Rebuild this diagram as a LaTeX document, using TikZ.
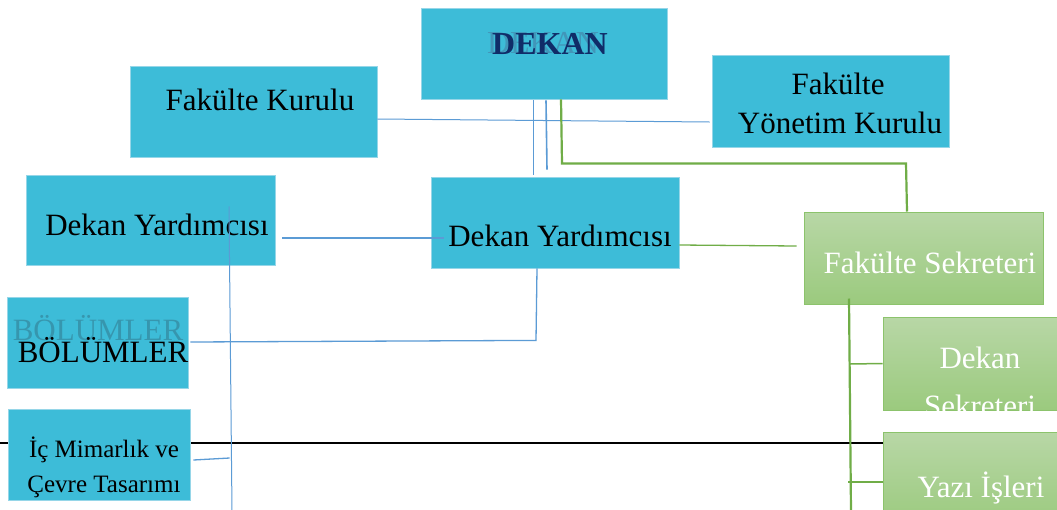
\documentclass[tikz,border=0pt]{standalone}
\usepackage{fontspec}
\setmainfont{Liberation Serif}
\usetikzlibrary{calc}
\definecolor{boxfill}{RGB}{61,188,216}
\definecolor{boxedge}{RGB}{150,214,232}
\definecolor{lineblue}{RGB}{91,155,213}
\definecolor{linegreen}{RGB}{112,173,71}
\definecolor{gtop}{RGB}{184,215,166}
\definecolor{gbot}{RGB}{155,202,126}
\definecolor{gedge}{RGB}{140,195,108}
\definecolor{navy}{RGB}{16,44,104}
\definecolor{ghostblue}{RGB}{70,120,160}
\definecolor{ghostteal}{RGB}{50,120,140}
\begin{document}
\begin{tikzpicture}[x=1pt,y=-1pt,
  tealbox/.style={draw=boxedge, line width=0.8pt, fill=boxfill, inner sep=0pt},
  greenbox/.style={draw=gedge, line width=1pt, top color=gtop, bottom color=gbot, inner sep=0pt},
  lbl/.style={anchor=base, inner sep=0pt, font=\fontsize{31}{36}\selectfont},
  small/.style={lbl, font=\fontsize{25}{30}\selectfont},
  wlbl/.style={lbl, text=white},
  conn/.style={draw=lineblue, line width=1.3pt},
  gconn/.style={draw=linegreen, line width=2.2pt}]
\clip (0,0) rectangle (1057,509);
\fill[white] (0,0) rectangle (1057,509);

% page separator line
\draw[line width=2.5pt] (0,443) -- (883,443);

% boxes
\node[tealbox, minimum width=246, minimum height=91] (dekan)   at (544,53.5)  {};
\node[tealbox, minimum width=247, minimum height=91] (kurulu)  at (253.5,111.5) {};
\node[tealbox, minimum width=237, minimum height=92] (yonetim) at (830.5,101) {};
\node[tealbox, minimum width=249, minimum height=90] (dyL)     at (150.5,220) {};
\node[tealbox, minimum width=248, minimum height=91] (dyC)     at (555,222.5) {};
\node[tealbox, minimum width=181, minimum height=91] (bolum)   at (97.5,342.5) {};
\node[tealbox, minimum width=182, minimum height=91] (icmim)   at (99,454.5) {};
\node[greenbox, minimum width=239, minimum height=92] (sekr)   at (923.5,258) {};
\node[greenbox, minimum width=194, minimum height=93] (dsek)   at (980,363.5) {};
\node[greenbox, minimum width=194, minimum height=93] (yazi)   at (980,478.5) {};

% labels
\node[lbl, font=\fontsize{32}{36}\selectfont, text=ghostblue, opacity=0.55] (dekanG) at (543,53) {DEKAN};
\node[lbl, font=\bfseries\fontsize{32}{36}\selectfont, text=navy] (dekanT) at (550,54) {DEKAN};
\node[lbl] (kurulT) at (260,110) {Fakülte Kurulu};
\node[lbl] (yonT1) at (838,94) {Fakülte};
\node[lbl] (yonT2) at (840,133) {Yönetim Kurulu};
\node[lbl] (dyLT) at (157,235) {Dekan Yardımcısı};
\node[lbl] (dyCT) at (560,246) {Dekan Yardımcısı};
\node[lbl, text=ghostteal, opacity=0.55] (bolumG) at (98,340) {BÖLÜMLER};
\node[lbl] (bolumT) at (103,362) {BÖLÜMLER};
\node[small] (icT1) at (104,457) {İç Mimarlık ve};
\node[small] (icT2) at (104,492) {Çevre Tasarımı};
\node[wlbl] (sekrT) at (930,273) {Fakülte Sekreteri};
\begin{scope}
  \clip (dsek.south west) rectangle (dsek.north east);
  \node[wlbl] (dsekT1) at (980,368) {Dekan};
  \node[wlbl] (dsekT2) at (980,416) {Sekreteri};
\end{scope}
\node[wlbl] (yaziT) at (981,497) {Yazı İşleri};

% trunk ends below the page edge
\coordinate (trunkL) at (232,512);
\coordinate (trunkR) at (851,512);

% connectors
\draw[conn, line width=1pt] ($(kurulu.east)+(0,7.5)$) -- ($(yonetim.west)+(-2,21)$);
\draw[conn, line width=1pt] ($(dekan.south)+(-11,1)$) -- ($(dyC.north)+(-22,-2)$);
\draw[conn, line width=1.6pt] ($(dekan.south)+(2,1)$) -- ($(dyC.north)+(-8,-7)$);
\draw[gconn] ($(dekan.south)+(17,0)$) -- ++(1,64) -- ++(344,0) -- ($(sekr.north)+(-16.5,0)$);
\draw[conn, line width=1.8pt] ($(dyL.east)+(7,18)$) -- ($(dyC.west)+(13,15.5)$);
\draw[conn, line width=1pt] ($(dyL.south)+(78.5,-59)$) -- (trunkL);
\draw[conn] ($(bolum.east)+(2,-0.5)$) -- ($(dyC.south)+(-19,72)$) -- ($(dyC.south)+(-18,0)$);
\draw[conn] ($(icmim.east)+(3,5.5)$) -- (229.7,458);
\draw[gconn, line width=1.3pt] ($(dyC.east)+(0,22.5)$) -- ($(sekr.west)+(-7,-12)$);
\draw[gconn] ($(sekr.south)+(-74.5,-6)$) -- (trunkR);
\draw[gconn, line width=1.5pt] (850,364) -- (dsek.west);
\draw[gconn, line width=1.5pt] (848,482) -- ($(yazi.west)+(0,3.5)$);
\end{tikzpicture}
\end{document}
